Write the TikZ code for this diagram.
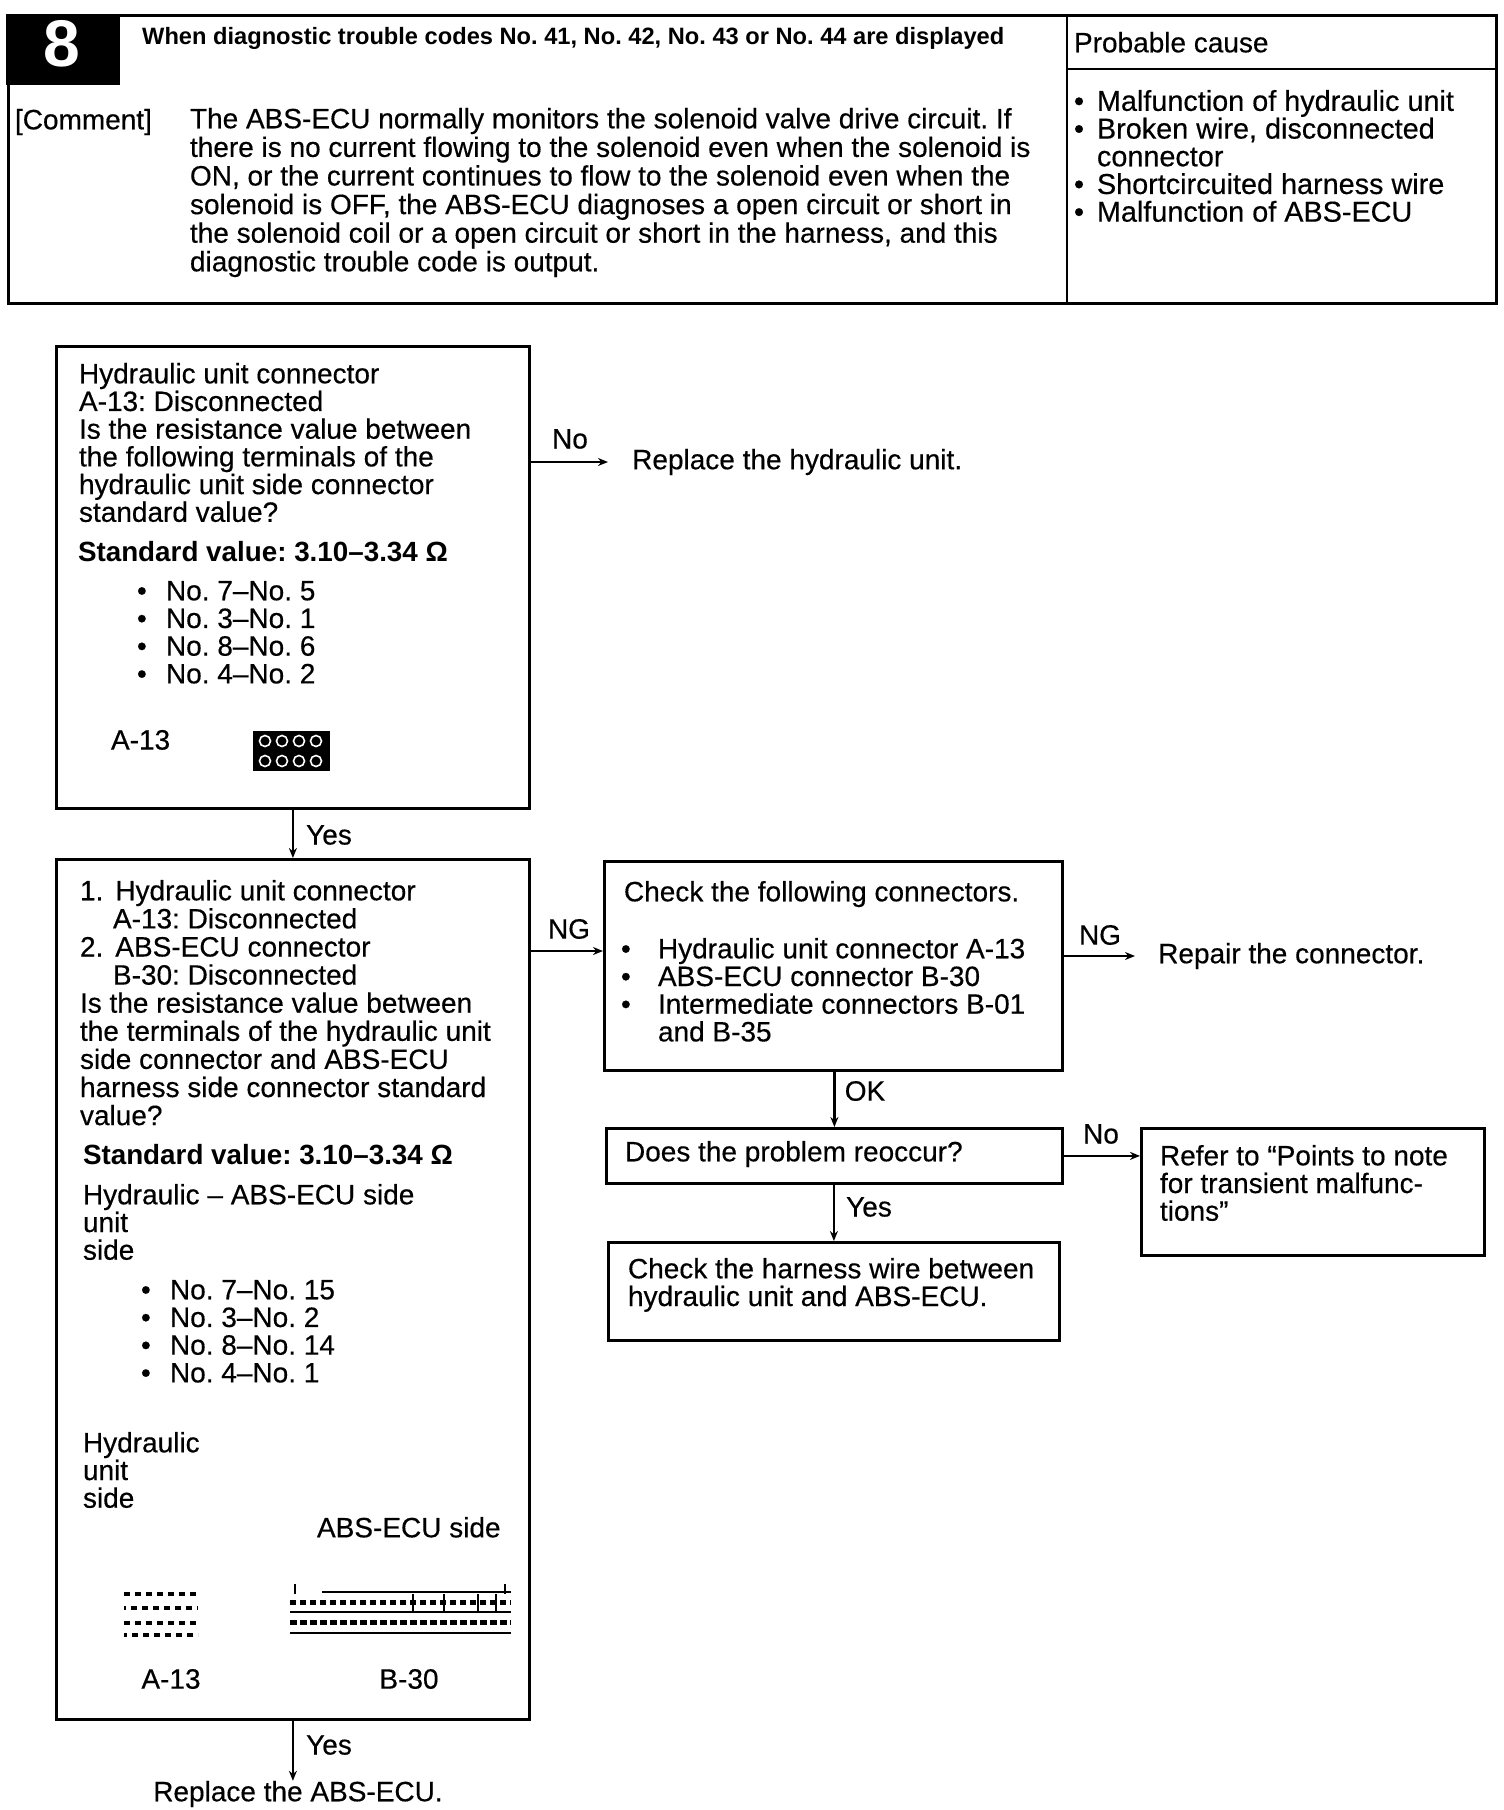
\documentclass[tikz,border=0pt]{standalone}
\usepackage{fontspec}
\setmainfont{Liberation Sans}
\newfontfamily\inkfont{Liberation Sans}[FakeBold=0.4]
\usetikzlibrary{arrows.meta}
\tikzset{
  frame/.style={draw=black,line width=2.8pt,fill=none,inner sep=0pt,anchor=north west},
  txt/.style={anchor=north west,inner sep=0pt,outer sep=0pt,align=left,text=black,font=\fontsize{28}{27.7}\inkfont\frenchspacing},
  cmttxt/.style={txt,font=\fontsize{28}{28.6}\inkfont\frenchspacing},
  bigtxt/.style={txt,font=\fontsize{28.8}{27.7}\inkfont\frenchspacing},
  longtxt/.style={txt,font=\fontsize{28}{28.1}\inkfont\frenchspacing},
  lab/.style={inner sep=0pt,text=black,font=\fontsize{28}{27.7}\inkfont\frenchspacing},
  boldtxt/.style={txt,font=\fontsize{27.8}{27.7}\selectfont\bfseries\frenchspacing},
  conn/.style={line width=2.2pt,draw=black,-{Stealth[length=10pt,width=8pt]}},
  rule/.style={line width=2.8pt,draw=black}
}
\newcommand{\bul}[1]{\makebox[#1][l]{•}}
\begin{document}
\begin{tikzpicture}[x=1pt,y=-1pt]
\useasboundingbox (0,0) rectangle (1504,1810);
\fill[white] (0,0) rectangle (1504,1810);

% header
\node[frame,minimum width=1488pt,minimum height=288pt] (head) at (7,14) {};
\node[anchor=north west,fill=black,minimum width=114pt,minimum height=71pt,inner sep=0pt] (badge) at (6,14) {};
\node[text=white,font=\fontsize{66}{66}\selectfont\bfseries,inner sep=0pt] (eight) at (62,44) {8};
\coordinate (divT) at (1067,14);
\coordinate (divB) at (1067,302);
\draw[rule] (divT) -- (divB);
\coordinate (subL) at (1067,69);
\coordinate (subR) at (1495,69);
\draw[rule] (subL) -- (subR);
\node[anchor=west,inner sep=0pt,font=\fontsize{23.65}{27}\selectfont\bfseries\frenchspacing] (title) at (142,38) {When diagnostic trouble codes No. 41, No. 42, No. 43 or No. 44 are displayed};
\node[txt] (pc) at (1074,32) {Probable cause};
\node[bigtxt] (causes) at (1074,90) {\bul{23pt}Malfunction of hydraulic unit\\\bul{23pt}Broken wire, disconnected\\\hspace*{23pt}connector\\\bul{23pt}Shortcircuited harness wire\\\bul{23pt}Malfunction of ABS-ECU};
\node[txt] (cm) at (15,109) {[Comment]};
\node[cmttxt] (cmt) at (190,108) {The ABS-ECU normally monitors the solenoid valve drive circuit. If\\there is no current flowing to the solenoid even when the solenoid is\\ON, or the current continues to flow to the solenoid even when the\\solenoid is OFF, the ABS-ECU diagnoses a open circuit or short in\\the solenoid coil or a open circuit or short in the harness, and this\\diagnostic trouble code is output.};

% box 1
\node[frame,minimum width=473pt,minimum height=462pt] (b1) at (55,345) {};
\node[txt] at (79,363) (b1t) {Hydraulic unit connector\\A-13: Disconnected\\Is the resistance value between\\the following terminals of the\\hydraulic unit side connector\\standard value?};
\node[boldtxt] at (78,541) (b1s) {Standard value: 3.10–3.34 Ω};
\node[txt] at (137,581) (b1l) {\bul{29pt}No. 7–No. 5\\\bul{29pt}No. 3–No. 1\\\bul{29pt}No. 8–No. 6\\\bul{29pt}No. 4–No. 2};
\node[txt] at (111,730) (b1a) {A-13};
\node[anchor=north west,fill=black,minimum width=77pt,minimum height=40pt,inner sep=0pt] (c1) at (253,731) {};
\foreach \cx in {265,282,299,316}{
  \draw[white,line width=1.6pt] (\cx,741) circle (5.5);
  \draw[white,line width=1.6pt] (\cx,761) circle (5.5);
}

% box 2
\node[frame,minimum width=473pt,minimum height=860pt] (b2) at (55,858) {};
\node[longtxt] at (80,880) (b2t) {1.\hspace*{12pt}Hydraulic unit connector\\\hspace*{33pt}A-13: Disconnected\\2.\hspace*{12pt}ABS-ECU connector\\\hspace*{33pt}B-30: Disconnected\\Is the resistance value between\\the terminals of the hydraulic unit\\side connector and ABS-ECU\\harness side connector standard\\value?};
\node[boldtxt] at (83,1144) (b2s) {Standard value: 3.10–3.34 Ω};
\node[txt] at (83,1184) (b2h) {Hydraulic – ABS-ECU side\\unit\\side};
\node[txt] at (141,1280) (b2l) {\bul{29pt}No. 7–No. 15\\\bul{29pt}No. 3–No. 2\\\bul{29pt}No. 8–No. 14\\\bul{29pt}No. 4–No. 1};
\node[txt] at (83,1432) (b2u) {Hydraulic\\unit\\side};
\node[txt] at (317,1517) (b2e) {ABS-ECU side};
\node[lab] at (171,1679) (b2a) {A-13};
\node[lab] at (409,1679) (b2b) {B-30};
% A-13 connector, hydraulic unit side
\foreach \cy/\off in {1594/0,1608/4,1623/0,1635/3}{
  \draw[black,line width=4pt,dash pattern=on 6pt off 5pt,dash phase=\off] (124,\cy) -- (198,\cy);
}
% B-30 connector
\draw[black,line width=2.8pt] (322,1592) -- (511,1592);
\draw[black,line width=5pt,dash pattern=on 6pt off 4pt] (290,1602) -- (511,1602);
\draw[black,line width=1.6pt] (290,1612) -- (511,1612);
\draw[black,line width=5pt,dash pattern=on 7pt off 3pt] (290,1622) -- (511,1622);
\draw[black,line width=2.4pt] (290,1633) -- (511,1633);
\draw[black,line width=2.4pt] (295,1584) -- (295,1594);
\draw[black,line width=2.4pt] (505,1584) -- (505,1594);
\foreach \cx in {413,444,478,496}{\draw[black,line width=1.8pt] (\cx,1594) -- (\cx,1612);}

% right boxes
\node[frame,minimum width=458pt,minimum height=209pt] (b3) at (603,860) {};
\node[txt] at (624,881) (b3t) {Check the following connectors.};
\node[txt] at (621,938) (b3l) {\bul{37pt}Hydraulic unit connector A-13\\\bul{37pt}ABS-ECU connector B-30\\\bul{37pt}Intermediate connectors B-01\\\hspace*{37pt}and B-35};
\node[frame,minimum width=456pt,minimum height=55pt] (b4) at (605,1127) {};
\node[txt] at (625,1141) (b4t) {Does the problem reoccur?};
\node[frame,minimum width=451pt,minimum height=98pt] (b5) at (607,1241) {};
\node[txt] at (628,1258) (b5t) {Check the harness wire between\\hydraulic unit and ABS-ECU.};
\node[frame,minimum width=343pt,minimum height=127pt] (b6) at (1140,1127) {};
\node[txt] at (1160,1145) (b6t) {Refer to “Points to note\\for transient malfunc-\\tions”};

% free text
\node[lab,anchor=west] (rh) at (632,462) {Replace the hydraulic unit.};
\node[lab,anchor=west] (rc) at (1158,956) {Repair the connector.};
\node[lab] (rb) at (298,1794) {Replace the ABS-ECU.};

% connector labels
\node[lab] (l1) at (570,439) {No};
\node[lab] (l2) at (329,835) {Yes};
\node[lab] (l3) at (569,929) {NG};
\node[lab] (l4) at (1100,935) {NG};
\node[lab] (l5) at (865,1091) {OK};
\node[lab] (l6) at (1101,1134) {No};
\node[lab] (l7) at (869,1207) {Yes};
\node[lab] (l8) at (329,1745) {Yes};

% connectors
\draw[conn,shorten >=24pt] (b1.east |- rh.west) -- (rh.west);
\draw[conn] (b1.south) -- (b2.north);
\coordinate (ngA) at (0,951);
\draw[conn] (b2.east |- ngA) -- (b3.west |- ngA);
\draw[conn,shorten >=23pt] (b3.east |- rc.west) -- (rc.west);
\draw[conn] (b3.south -| b4.north) -- (b4.north);
\draw[conn] (b4.east) -- (b6.west |- b4.east);
\draw[conn] (b4.south -| b5.north) -- (b5.north);
\draw[conn] (b2.south) -- (b2.south |- rb.north);
\end{tikzpicture}
\end{document}
